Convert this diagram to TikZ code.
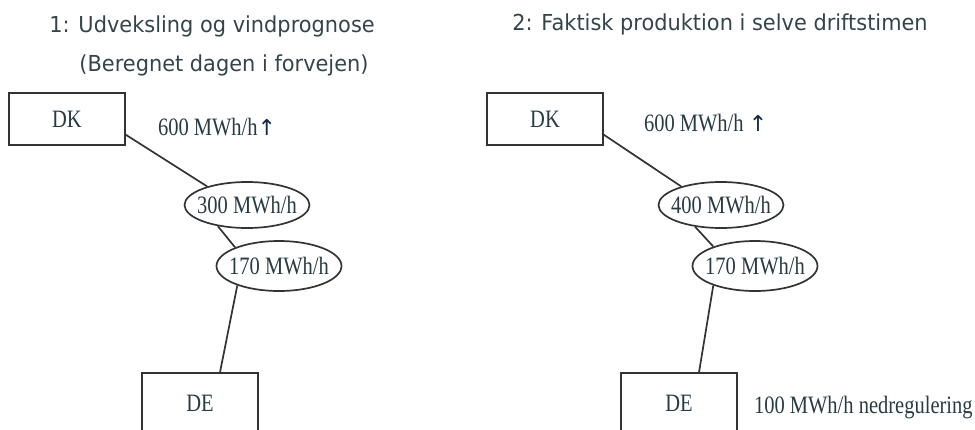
\documentclass[tikz,border=0pt]{standalone}
\usepackage{fontspec}
\setmainfont{Liberation Serif}
\newfontfamily\labelfont[FakeStretch=0.82]{Liberation Serif}
\newfontfamily\headfont[FakeStretch=0.95]{DejaVu Sans}
\newfontfamily\arrowfont{DejaVu Sans}
\usetikzlibrary{shapes.geometric}
\usetikzlibrary{positioning}

\definecolor{inkgray}{RGB}{40,58,66}
\definecolor{headgray}{RGB}{52,68,74}
\definecolor{arrownavy}{RGB}{18,40,68}

\newcommand{\upmark}{{\arrowfont\color{arrownavy}\fontsize{22}{24}\selectfont ↑}}

\begin{document}
\begin{tikzpicture}[x=1pt,y=-1pt,
    area/.style={draw=black!80, line width=1.7pt, minimum width=116pt,
      minimum height=52pt, inner sep=0pt, text=inkgray,
      font=\labelfont\fontsize{25}{28}\selectfont},
    flow/.style={ellipse, draw=black!80, line width=1.7pt, inner xsep=-30pt,
      inner ysep=0pt, minimum width=125pt, minimum height=46pt, text=inkgray,
      font=\labelfont\fontsize{25}{28}\selectfont},
    link/.style={draw=black!80, line width=1.7pt},
    heading/.style={text=headgray, font=\headfont\fontsize{22}{26}\selectfont},
    note/.style={text=inkgray, inner sep=0pt, font=\labelfont\fontsize{25}{28}\selectfont}]
        \useasboundingbox (0,0) rectangle (975,429);

        % Left: forecast
        \node[heading]  (head1)  at (212,26) {1: Udveksling og vindprognose};
        \node[heading]  (head1b) at (224,65) {(Beregnet dagen i forvejen)};

        \node[area]     (dk1) at (67,119) {DK};
        \node[note, right=32pt of dk1, yshift=-8pt] (exp1) {600 MWh/h\upmark};
        \node[flow]     (ic1) at (247,205) {300 MWh/h};
        \node[flow, minimum height=50pt] (ic2) at (279,266) {170 MWh/h};
        \node[area, minimum height=60pt] (de1) at (200,403) {DE};

        \draw[link] (dk1.-15) -- (ic1.155);
        \draw[link] (ic1.216) -- (ic2.157);
        \draw[link] (ic2.205) -- (de1.57);

        % Right: actual hour
        \node[heading]  (head2)  at (720,24) {2: Faktisk produktion i selve driftstimen};

        \node[area]     (dk2) at (545,119) {DK};
        \node[note, right=40pt of dk2, yshift=-4pt] (exp2) {600 MWh/h \upmark};
        \node[flow]     (ic3) at (721,205) {400 MWh/h};
        \node[flow, minimum height=50pt] (ic4) at (755,266) {170 MWh/h};
        \node[area, minimum height=60pt] (de2) at (679,403) {DE};
        \node[note, right=16pt of de2, yshift=-5pt] (down2) {100 MWh/h nedregulering};

        \draw[link] (dk2.-15) -- (ic3.155);
        \draw[link] (ic3.220) -- (ic4.155);
        \draw[link] (ic4.205) -- (de2.57);
    \end{tikzpicture}
\end{document}
